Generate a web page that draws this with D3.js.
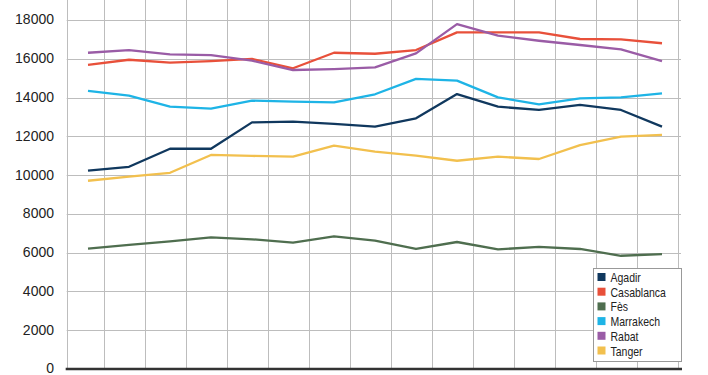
<!DOCTYPE html>
<html><head><meta charset="utf-8">
<script src="https://cdn.jsdelivr.net/npm/d3@7"></script>
<style>
html,body{margin:0;padding:0;background:#fff;}
svg{display:block;}
</style></head>
<body>
<svg id="chart" width="708" height="375"></svg>
<script>
const periods = ["1","2","3","4","5","6","7","8","9","10","11","12","13","14","15"];
const seriesNames = ["Agadir","Casablanca","Fès","Marrakech","Rabat","Tanger"];
const seriesColors = ["#10385e","#e8503a","#4f6e4f","#1eb4e6","#9a5ca6","#f2c04e"];
const agadir     = [10230,10430,11360,11360,12720,12760,12640,12500,12930,14180,13530,13360,13620,13360,12500];
const casablanca = [15680,15950,15800,15880,15990,15510,16310,16260,16450,17360,17360,17360,17020,17000,16800];
const fes        = [6210,6400,6580,6790,6690,6520,6840,6620,6190,6550,6170,6300,6190,5840,5930];
const marrakech  = [14340,14100,13530,13430,13840,13790,13750,14170,14960,14870,14010,13650,13960,14010,14220];
const rabat      = [16310,16450,16230,16190,15900,15420,15470,15560,16280,17790,17190,16930,16710,16490,15880];
const tanger     = [9710,9920,10120,11040,10990,10950,11520,11210,11000,10740,10950,10830,11550,11980,12070];
const yTicks = [0,2000,4000,6000,8000,10000,12000,14000,16000,18000];
const allSeries = [agadir,casablanca,fes,marrakech,rabat,tanger];

(function(){
const svg = d3.select("#chart");
const x = d3.scaleLinear().domain([0, periods.length-1]).range([88, 662]);
const y = d3.scaleLinear().domain([0, 18000]).range([369, 20]);
const pLeft = x(-0.52), pRight = 681, pTop = 0, pBottom = y(0);

// horizontal gridlines
svg.append("g").selectAll("line").data(yTicks.filter(d=>d>0)).join("line")
  .attr("x1", pLeft).attr("x2", pRight)
  .attr("y1", d=>Math.round(y(d))+0.5).attr("y2", d=>Math.round(y(d))+0.5)
  .attr("stroke", "#bdbdbd").attr("stroke-width", 1);
// vertical gridlines
const vg = [-0.52].concat(d3.range(periods.length).map(i=>i+0.39));
svg.append("g").selectAll("line").data(vg).join("line")
  .attr("x1", d=>Math.round(x(d))+0.5).attr("x2", d=>Math.round(x(d))+0.5)
  .attr("y1", pTop).attr("y2", pBottom)
  .attr("stroke", "#bdbdbd").attr("stroke-width", 1);

// y axis labels
const yAxis = d3.axisLeft(y).tickValues(yTicks).tickSize(0).tickPadding(0).tickFormat(d3.format("d"));
const ya = svg.append("g").attr("transform", `translate(54,-0.5)`).call(yAxis);
ya.select(".domain").remove();
ya.selectAll("text").attr("font-family","Liberation Sans, Arial, sans-serif")
  .attr("font-size","14px").attr("fill","#222");

// baseline
svg.append("line").attr("x1", pLeft-1).attr("x2", pRight+1)
  .attr("y1", pBottom).attr("y2", pBottom)
  .attr("stroke", "#333").attr("stroke-width", 2.5);

// lines
const line = d3.line().x((d,i)=>x(i)).y(d=>y(d));
svg.append("g").selectAll("path").data(allSeries).join("path")
  .attr("d", line).attr("fill","none")
  .attr("stroke",(d,i)=>seriesColors[i]).attr("stroke-width",2.3)
  .attr("stroke-linejoin","round");

// legend
const lg = svg.append("g").attr("transform","translate(593.5,268.5)");
lg.append("rect").attr("width",88).attr("height",93)
  .attr("fill","#fff").attr("stroke","#999").attr("stroke-width",1);
const items = lg.selectAll("g.item").data(seriesNames).join("g")
  .attr("transform",(d,i)=>`translate(4,${4+i*14.7})`);
items.append("rect").attr("width",8).attr("height",8).attr("y",0.5)
  .attr("fill",(d,i)=>seriesColors[i]);
items.append("text").text(d=>d)
  .attr("transform","translate(13,9.5) scale(0.84,1)")
  .attr("font-family","Liberation Sans, Arial, sans-serif")
  .attr("font-size","12.5px").attr("fill","#222");
})();
</script>
</body></html>
